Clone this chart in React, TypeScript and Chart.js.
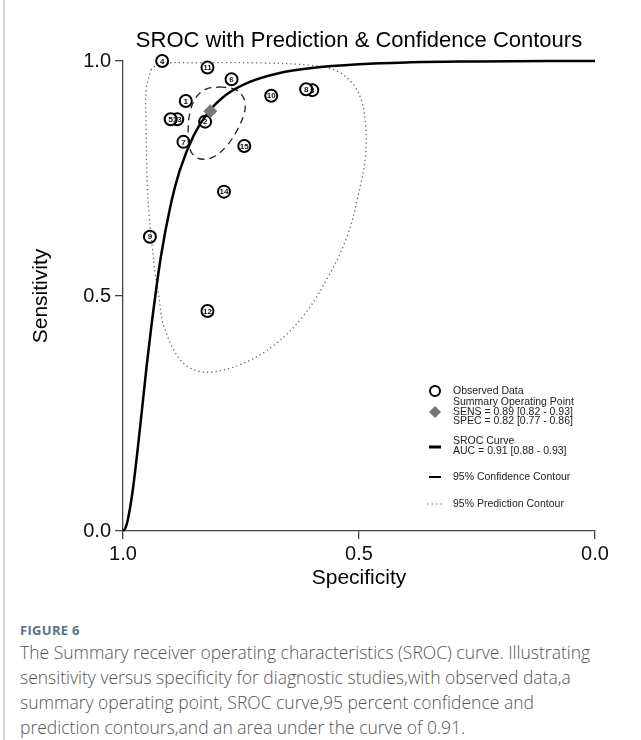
import React, { useEffect, useRef } from "react";
import { Chart, registerables } from "chart.js";

Chart.register(...registerables);

// ---------- data ----------
const studyLabels = ["4", "11", "6", "10", "3", "8", "1", "13", "5", "2", "7", "15", "14", "9", "12"];
const studySpec = [0.917, 0.821, 0.77, 0.686, 0.599, 0.612, 0.867, 0.885, 0.899, 0.826, 0.872, 0.743, 0.786, 0.943, 0.821];
const studySens = [1.0, 0.986, 0.961, 0.926, 0.938, 0.94, 0.915, 0.876, 0.876, 0.871, 0.828, 0.819, 0.722, 0.626, 0.468];

const summarySpec = [0.815];
const summarySens = [0.893];

const srocSpec = [1.0, 0.995, 0.99, 0.98, 0.97, 0.96, 0.95, 0.94, 0.92, 0.9, 0.88, 0.85, 0.82, 0.78, 0.73, 0.67, 0.6, 0.5, 0.4, 0.25, 0.1, 0.0];
const srocSens = [0.0, 0.006, 0.023, 0.082, 0.164, 0.256, 0.35, 0.435, 0.582, 0.689, 0.766, 0.842, 0.89, 0.929, 0.956, 0.974, 0.985, 0.993, 0.997, 0.999, 1.0, 1.0];

const confSpec = [0.796, 0.764, 0.747, 0.741, 0.745, 0.758, 0.779, 0.805, 0.828, 0.849, 0.86, 0.862, 0.858, 0.845, 0.824, 0.796];
const confSens = [0.945, 0.94, 0.926, 0.906, 0.883, 0.853, 0.821, 0.798, 0.791, 0.798, 0.819, 0.853, 0.891, 0.923, 0.94, 0.945];

const predSpec = [0.941, 0.924, 0.839, 0.711, 0.605, 0.552, 0.516, 0.495, 0.486, 0.486, 0.499, 0.524, 0.563, 0.616, 0.679, 0.754, 0.828, 0.875, 0.913, 0.924, 0.932, 0.938, 0.945, 0.949, 0.951, 0.951, 0.941];
const predSens = [0.981, 0.994, 0.996, 0.996, 0.991, 0.981, 0.955, 0.917, 0.864, 0.8, 0.726, 0.63, 0.545, 0.46, 0.396, 0.353, 0.338, 0.36, 0.434, 0.498, 0.549, 0.604, 0.677, 0.747, 0.853, 0.938, 0.981];

const tickValues = [0, 0.5, 1];
const tickLabels = ["0.0", "0.5", "1.0"];

const chartTitle = "SROC with Prediction & Confidence Contours";
const xTitle = "Specificity";
const yTitle = "Sensitivity";

const legendObserved = ["Observed Data"];
const legendSummary = ["Summary Operating Point", "SENS = 0.89 [0.82 - 0.93]", "SPEC = 0.82 [0.77 - 0.86]"];
const legendSroc = ["SROC Curve", "AUC = 0.91 [0.88 - 0.93]"];
const legendConf = ["95% Confidence Contour"];
const legendPred = ["95% Prediction Contour"];

const captionHead = "FIGURE 6";
const captionLines = [
  "The Summary receiver operating characteristics (SROC) curve. Illustrating",
  "sensitivity versus specificity for diagnostic studies,with observed data,a",
  "summary operating point, SROC curve,95 percent confidence and",
  "prediction contours,and an area under the curve of 0.91.",
];

const FONT = '"Liberation Sans", Arial, sans-serif';

const pts = (xs: number[], ys: number[]) => xs.map((x, i) => ({ x, y: ys[i] }));

const drawPlugin = {
  id: "srocExtras",
  afterDatasetsDraw(chart: any) {
    const ctx = chart.ctx;
    const meta = chart.getDatasetMeta(4);
    ctx.save();
    ctx.fillStyle = "#111";
    ctx.font = `bold 8px ${FONT}`;
    ctx.textAlign = "center";
    ctx.textBaseline = "middle";
    meta.data.forEach((el: any, i: number) => {
      ctx.fillText(studyLabels[i], el.x, el.y + 0.5);
    });
    ctx.restore();
  },
  afterDraw(chart: any) {
    const ctx = chart.ctx;
    const area = chart.chartArea;
    const cx = (area.left + area.right) / 2;
    ctx.save();
    ctx.fillStyle = "#000";
    // title
    ctx.font = `22px ${FONT}`;
    ctx.textAlign = "center";
    ctx.textBaseline = "middle";
    ctx.fillText(chartTitle, cx, 41);
    // axis titles
    ctx.font = `21px ${FONT}`;
    ctx.fillText(xTitle, cx, 578);
    ctx.save();
    ctx.translate(41, (area.top + area.bottom) / 2);
    ctx.rotate(-Math.PI / 2);
    ctx.fillText(yTitle, 0, 0);
    ctx.restore();

    // legend
    const mx = 435;
    const tx = 453;
    ctx.textAlign = "left";
    ctx.font = `10.5px ${FONT}`;
    // observed
    ctx.beginPath();
    ctx.arc(mx, 391, 5, 0, Math.PI * 2);
    ctx.fillStyle = "#fff";
    ctx.fill();
    ctx.lineWidth = 2;
    ctx.strokeStyle = "#000";
    ctx.stroke();
    ctx.fillStyle = "#222";
    ctx.fillText(legendObserved[0], tx, 391);
    // summary
    ctx.beginPath();
    ctx.moveTo(mx, 406);
    ctx.lineTo(mx + 6, 412);
    ctx.lineTo(mx, 418);
    ctx.lineTo(mx - 6, 412);
    ctx.closePath();
    ctx.fillStyle = "#777";
    ctx.fill();
    ctx.fillStyle = "#222";
    legendSummary.forEach((t, i) => ctx.fillText(t, tx, 402.5 + i * 9.5));
    // sroc
    ctx.beginPath();
    ctx.moveTo(mx - 6, 447);
    ctx.lineTo(mx + 6, 447);
    ctx.lineWidth = 3;
    ctx.strokeStyle = "#000";
    ctx.stroke();
    legendSroc.forEach((t, i) => ctx.fillText(t, tx, 441.5 + i * 9.5));
    // confidence
    ctx.beginPath();
    ctx.moveTo(mx - 6, 477);
    ctx.lineTo(mx + 6, 477);
    ctx.lineWidth = 2;
    ctx.stroke();
    ctx.fillText(legendConf[0], tx, 477);
    // prediction
    ctx.beginPath();
    ctx.setLineDash([1.5, 3]);
    ctx.moveTo(mx - 8, 504);
    ctx.lineTo(mx + 8, 504);
    ctx.lineWidth = 1.2;
    ctx.strokeStyle = "#777";
    ctx.stroke();
    ctx.setLineDash([]);
    ctx.fillText(legendPred[0], tx, 504);
    ctx.restore();
  },
};

function SrocChart() {
  const ref = useRef<HTMLCanvasElement | null>(null);
  useEffect(() => {
    if (!ref.current) return;
    const axisCommon = {
      type: "linear" as const,
      min: 0,
      max: 1,
      afterBuildTicks: (s: any) => {
        s.ticks = tickValues.map((v) => ({ value: v }));
      },
      grid: {
        display: true,
        drawOnChartArea: false,
        drawTicks: true,
        tickLength: 8,
        color: "#444",
        lineWidth: 1.3,
      },
      border: { display: true, color: "#444", width: 1.3 },
    };
    const chart = new Chart(ref.current, {
      type: "scatter",
      data: {
        datasets: [
          {
            data: pts(summarySpec, summarySens),
            pointStyle: "rectRot",
            pointRadius: 7,
            backgroundColor: "#777",
            borderColor: "#777",
            borderWidth: 0,
            showLine: false,
            clip: false,
          } as any,
          {
            data: pts(srocSpec, srocSens),
            showLine: true,
            borderColor: "#000",
            borderWidth: 2.5,
            pointRadius: 0,
            cubicInterpolationMode: "monotone",
            clip: false,
          },
          {
            data: pts(confSpec, confSens),
            showLine: true,
            borderColor: "#222",
            borderWidth: 1.3,
            borderDash: [7, 5],
            pointRadius: 0,
            tension: 0.4,
            clip: false,
          },
          {
            data: pts(predSpec, predSens),
            showLine: true,
            borderColor: "#666",
            borderWidth: 1.3,
            borderDash: [1.3, 3],
            pointRadius: 0,
            tension: 0.35,
            clip: false,
          },
          {
            data: pts(studySpec, studySens),
            showLine: false,
            pointStyle: "circle",
            pointRadius: 6,
            backgroundColor: "#fff",
            borderColor: "#000",
            borderWidth: 2,
            clip: false,
          },
        ],
      },
      options: {
        responsive: false,
        animation: false,
        devicePixelRatio: 1,
        layout: { padding: { left: 0, right: 46, top: 61, bottom: 0 } },
        plugins: { legend: { display: false }, tooltip: { enabled: false }, title: { display: false } },
        scales: {
          x: {
            ...axisCommon,
            reverse: true,
            afterFit: (s: any) => {
              s.height = 69;
            },
            ticks: {
              padding: 3,
              color: "#111",
              font: { family: FONT, size: 20 },
              callback: (v: any) => tickLabels[tickValues.indexOf(Number(v))],
              maxRotation: 0,
            },
          },
          y: {
            ...axisCommon,
            afterFit: (s: any) => {
              s.width = 123;
            },
            ticks: {
              padding: 4,
              color: "#111",
              font: { family: FONT, size: 20 },
              callback: (v: any) => tickLabels[tickValues.indexOf(Number(v))],
            },
          },
        },
      } as any,
      plugins: [drawPlugin],
    });
    return () => chart.destroy();
  }, []);
  return (
    <canvas
      ref={ref}
      width={641}
      height={600}
      style={{ position: "absolute", left: 0, top: 0, width: 641, height: 600 }}
    />
  );
}

export default function App() {
  return (
    <div style={{ position: "relative", width: 641, height: 740, background: "#fff", overflow: "hidden" }}>
      <style>{`body{margin:0;background:#fff}`}</style>
      <SrocChart />
      <div style={{ position: "absolute", left: 3, top: 0, width: 2, height: 740, background: "#d6d6d6" }} />
      <div
        style={{
          position: "absolute",
          left: 20,
          top: 621,
          fontFamily: '"Open Sans", sans-serif',
          fontWeight: 700,
          fontSize: 13,
          lineHeight: "18px",
          color: "#5b7186",
          letterSpacing: 0.3,
        }}
      >
        {captionHead}
      </div>
      <div
        style={{
          position: "absolute",
          left: 20,
          top: 640,
          fontFamily: '"Open Sans", sans-serif',
          fontWeight: 300,
          fontSize: 17.5,
          lineHeight: "25px",
          color: "#555",
          whiteSpace: "nowrap",
        }}
      >
        {captionLines.map((l, i) => (
          <div key={i}>{l}</div>
        ))}
      </div>
    </div>
  );
}
